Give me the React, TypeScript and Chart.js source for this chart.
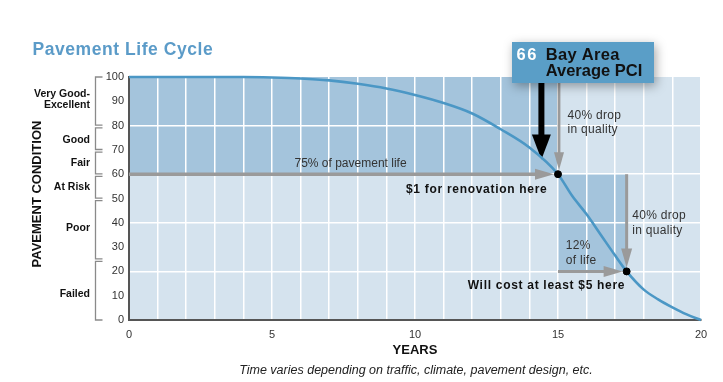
import { useEffect, useRef } from 'react';
import { Chart, registerables } from 'chart.js';

Chart.register(...registerables);

// ---- data ----
const YEARS = [0, 4, 5, 6, 7, 8, 9, 10, 11, 12, 13, 14, 15, 15.5, 16, 16.5, 17, 17.4, 18, 18.5, 19, 19.5, 20];
const PCI = [100, 100, 99.8, 99.4, 98.6, 97.2, 95.3, 92.6, 89.3, 85, 78.5, 71, 60, 51, 43.5, 35, 26.5, 20, 12.5, 8.5, 5.2, 2.3, 0];
const KEY_YEARS = [15, 17.4];
const KEY_PCI = [60, 20];
const BAY_AREA_PCI = 66;
const X_TICK_LABELS = [0, 5, 10, 15, 20];
const Y_TICK_STEP = 10;
const CONDITION_NAMES = [['Very Good-', 'Excellent'], ['Good'], ['Fair'], ['At Risk'], ['Poor'], ['Failed']];
const CONDITION_BOUNDS = [100, 80, 70, 60, 50, 25, 0];
const CONDITION_LABEL_AT = [91, 74.5, 65, 55, 38, 11];

// ---- style ----
const FONT = "'Liberation Sans', Arial, Helvetica, sans-serif";
const DARK = '#a4c4dc';
const LIGHT = '#d5e3ee';
const CURVE = '#4b97c5';
const GRAY = '#9a9a9a';
const TITLE_BLUE = '#5b9bc8';
const BOX_BLUE = '#5a9ec7';

function interpYear(pci: number) {
  for (let i = 0; i < PCI.length - 1; i++) {
    const a = PCI[i], b = PCI[i + 1];
    if ((a >= pci && b <= pci) && a !== b) {
      return YEARS[i] + ((a - pci) / (a - b)) * (YEARS[i + 1] - YEARS[i]);
    }
  }
  return YEARS[0];
}

function drawArrow(ctx: CanvasRenderingContext2D, x1: number, y1: number, x2: number, y2: number, shaft: number, headLen: number, headHalf: number, color: string) {
  const dx = x2 - x1, dy = y2 - y1;
  const len = Math.hypot(dx, dy);
  const ux = dx / len, uy = dy / len;
  const bx = x2 - ux * headLen, by = y2 - uy * headLen;
  ctx.save();
  ctx.strokeStyle = color;
  ctx.fillStyle = color;
  ctx.lineWidth = shaft;
  ctx.lineCap = 'butt';
  ctx.beginPath();
  ctx.moveTo(x1, y1);
  ctx.lineTo(bx + ux * 1, by + uy * 1);
  ctx.stroke();
  ctx.beginPath();
  ctx.moveTo(x2, y2);
  ctx.lineTo(bx - uy * headHalf, by + ux * headHalf);
  ctx.lineTo(bx + uy * headHalf, by - ux * headHalf);
  ctx.closePath();
  ctx.fill();
  ctx.restore();
}

function txt(ctx: CanvasRenderingContext2D, s: string, x: number, y: number, font: string, color: string, align: CanvasTextAlign = 'left', spacing = '0px') {
  ctx.font = font;
  ctx.fillStyle = color;
  ctx.textAlign = align;
  ctx.textBaseline = 'alphabetic';
  (ctx as any).letterSpacing = spacing;
  ctx.fillText(s, x, y);
  (ctx as any).letterSpacing = '0px';
}

const overlay = {
  id: 'overlay',
  beforeDraw(chart: any) {
    const { ctx, chartArea: a, scales } = chart;
    const x = scales.x, y = scales.y;
    ctx.save();
    ctx.fillStyle = '#ffffff';
    ctx.fillRect(0, 0, chart.width, chart.height);
    ctx.fillStyle = LIGHT;
    ctx.fillRect(a.left, a.top, a.right - a.left, a.bottom - a.top);
    ctx.fillStyle = DARK;
    const x0 = x.getPixelForValue(0);
    const x1 = x.getPixelForValue(KEY_YEARS[0]);
    const x2 = x.getPixelForValue(KEY_YEARS[1]);
    const yTop = y.getPixelForValue(100);
    const y1 = y.getPixelForValue(KEY_PCI[0]);
    const y2 = y.getPixelForValue(KEY_PCI[1]);
    ctx.fillRect(x0, yTop, x1 - x0, y1 - yTop);
    ctx.fillRect(x1, y1, x2 - x1, y2 - y1);
    ctx.restore();
  },
  beforeDatasetsDraw(chart: any) {
    const { ctx, scales } = chart;
    const x = scales.x, y = scales.y;
    const x0 = x.getPixelForValue(0);
    const x1 = x.getPixelForValue(KEY_YEARS[0]);
    const x2 = x.getPixelForValue(KEY_YEARS[1]);
    const y1 = y.getPixelForValue(KEY_PCI[0]);
    const y2 = y.getPixelForValue(KEY_PCI[1]);
    const boxBottom = 83;
    // 75% of life arrow
    drawArrow(ctx, x0, y1, x1 - 4, y1, 3.5, 19, 5.5, GRAY);
    // 40% drop (upper)
    drawArrow(ctx, x1 + 1, boxBottom, x1 + 1, y1 - 4, 2.8, 18, 5, GRAY);
    // 40% drop (lower)
    drawArrow(ctx, x2, y1, x2, y2 - 4, 3, 19, 5.5, GRAY);
    // 12% of life
    drawArrow(ctx, x1, y2, x2 - 4, y2, 3, 19, 5.5, GRAY);
    // Bay area average arrow
    const xa = x.getPixelForValue(interpYear(BAY_AREA_PCI));
    drawArrow(ctx, xa - 1, boxBottom, xa - 1, y.getPixelForValue(BAY_AREA_PCI), 6, 25, 9.5, '#000');
  },
  afterDraw(chart: any) {
    const { ctx, scales } = chart;
    const y = scales.y;
    ctx.save();
    // title
    txt(ctx, 'Pavement Life Cycle', 32.5, 54.5, `bold 17.5px ${FONT}`, TITLE_BLUE, 'left', '0.55px');

    // condition brackets
    ctx.strokeStyle = '#8a8a8a';
    ctx.lineWidth = 1.3;
    for (let i = 0; i < CONDITION_BOUNDS.length - 1; i++) {
      const top = y.getPixelForValue(CONDITION_BOUNDS[i]) + (i === 0 ? 0 : 2.2);
      const bot = y.getPixelForValue(CONDITION_BOUNDS[i + 1]) - (i === CONDITION_BOUNDS.length - 2 ? 0 : 0.4);
      ctx.beginPath();
      ctx.moveTo(102.5, top);
      ctx.lineTo(95.5, top);
      ctx.lineTo(95.5, bot);
      ctx.lineTo(102.5, bot);
      ctx.stroke();
    }
    // condition labels
    CONDITION_NAMES.forEach((lines, i) => {
      const c = y.getPixelForValue(CONDITION_LABEL_AT[i]);
      const lh = 11.6;
      lines.forEach((s, j) => {
        const by = c + 3.6 + (j - (lines.length - 1) / 2) * lh;
        txt(ctx, s, 90, by, `bold 10.5px ${FONT}`, '#111', 'right');
      });
    });

    // y axis title
    ctx.save();
    ctx.translate(37.5, 194);
    ctx.rotate(-Math.PI / 2);
    ctx.font = `bold 13px ${FONT}`;
    ctx.fillStyle = '#111';
    ctx.textAlign = 'center';
    ctx.textBaseline = 'middle';
    ctx.fillText('PAVEMENT CONDITION', 0, 0);
    ctx.restore();

    // x axis title & footnote
    const xc = (chart.chartArea.left + chart.chartArea.right) / 2;
    txt(ctx, 'YEARS', xc, 353.5, `bold 13px ${FONT}`, '#111', 'center');
    txt(ctx, 'Time varies depending on traffic, climate, pavement design, etc.', 416, 374, `italic 12.5px ${FONT}`, '#222', 'center');

    // annotations
    const norm = `12px ${FONT}`;
    const bold = `bold 12px ${FONT}`;
    txt(ctx, '75% of pavement life', 294.5, 166.5, norm, '#333');
    txt(ctx, '$1 for renovation here', 406, 193.3, bold, '#111', 'left', '0.7px');
    txt(ctx, '40% drop', 567.5, 119.3, norm, '#333', 'left', '0.3px');
    txt(ctx, 'in quality', 567.5, 133.3, norm, '#333', 'left', '0.3px');
    txt(ctx, '40% drop', 632.3, 219.3, norm, '#333', 'left', '0.3px');
    txt(ctx, 'in quality', 632.3, 234, norm, '#333', 'left', '0.3px');
    txt(ctx, '12%', 565.7, 249.3, norm, '#333', 'left', '0.3px');
    txt(ctx, 'of life', 565.7, 264, norm, '#333', 'left', '0.3px');
    txt(ctx, 'Will cost at least $5 here', 467.7, 289.3, bold, '#111', 'left', '0.7px');

    // callout box
    ctx.save();
    ctx.shadowColor = 'rgba(0,0,0,0.35)';
    ctx.shadowBlur = 10;
    ctx.shadowOffsetX = 2;
    ctx.shadowOffsetY = 3;
    ctx.fillStyle = BOX_BLUE;
    ctx.fillRect(512, 42, 142, 41);
    ctx.restore();
    txt(ctx, String(BAY_AREA_PCI), 516.5, 59.5, `bold 16.5px ${FONT}`, '#ffffff', 'left', '1.5px');
    txt(ctx, 'Bay Area', 545.7, 59.5, `bold 16.5px ${FONT}`, '#111', 'left', '0.3px');
    txt(ctx, 'Average PCI', 545.7, 76, `bold 16.5px ${FONT}`, '#111', 'left', '0px');
    ctx.restore();
  },
};

export default function App() {
  const ref = useRef<HTMLCanvasElement | null>(null);
  useEffect(() => {
    document.body.style.margin = '0';
    const canvas = ref.current;
    if (!canvas) return;
    const chart = new Chart(canvas, {
      type: 'scatter',
      data: {
        datasets: [
          {
            type: 'line',
            data: YEARS.map((x, i) => ({ x, y: PCI[i] })),
            borderColor: CURVE,
            borderWidth: 2.6,
            pointRadius: 0,
            cubicInterpolationMode: 'monotone',
            fill: false,
            clip: 5,
            order: 1,
          } as any,
          {
            type: 'scatter',
            data: KEY_YEARS.map((x, i) => ({ x, y: KEY_PCI[i] })),
            backgroundColor: '#000',
            borderColor: '#000',
            pointRadius: 3.5,
            clip: 6,
            order: 0,
          } as any,
        ],
      },
      options: {
        responsive: false,
        animation: false,
        events: [],
        layout: { padding: { left: 0, right: 22, top: 77, bottom: 0 } },
        plugins: { legend: { display: false }, tooltip: { enabled: false }, title: { display: false } },
        scales: {
          x: {
            type: 'linear',
            min: 0,
            max: 20,
            afterFit: (s: any) => { s.height = 62; },
            ticks: {
              stepSize: 1,
              autoSkip: false,
              maxRotation: 0,
              padding: 8,
              color: '#333',
              font: { family: FONT, size: 11 },
              callback: (v: any) => (X_TICK_LABELS.includes(Number(v)) ? String(v) : ''),
            },
            grid: {
              drawTicks: false,
              lineWidth: 1.5,
              color: (c: any) => (c.tick && c.tick.value > 0 ? '#ffffff' : 'rgba(0,0,0,0)'),
            },
            border: { display: true, color: '#555', width: 2 },
          },
          y: {
            min: 0,
            max: 100,
            afterFit: (s: any) => { s.width = 129; },
            ticks: {
              stepSize: Y_TICK_STEP,
              padding: 5,
              color: '#333',
              font: { family: FONT, size: 11 },
            },
            grid: {
              drawTicks: false,
              lineWidth: 1.5,
              color: (c: any) =>
                c.tick && c.tick.value % 20 === 0 && c.tick.value > 0 && c.tick.value < 100 ? '#ffffff' : 'rgba(0,0,0,0)',
            },
            border: { display: true, color: '#555', width: 2 },
          },
        },
      } as any,
      plugins: [overlay],
    });
    return () => chart.destroy();
  }, []);
  return (
    <div style={{ position: 'absolute', left: 0, top: 0, width: 723, height: 382 }}>
      <canvas ref={ref} width={723} height={382} style={{ display: 'block', width: 723, height: 382 }} />
    </div>
  );
}
